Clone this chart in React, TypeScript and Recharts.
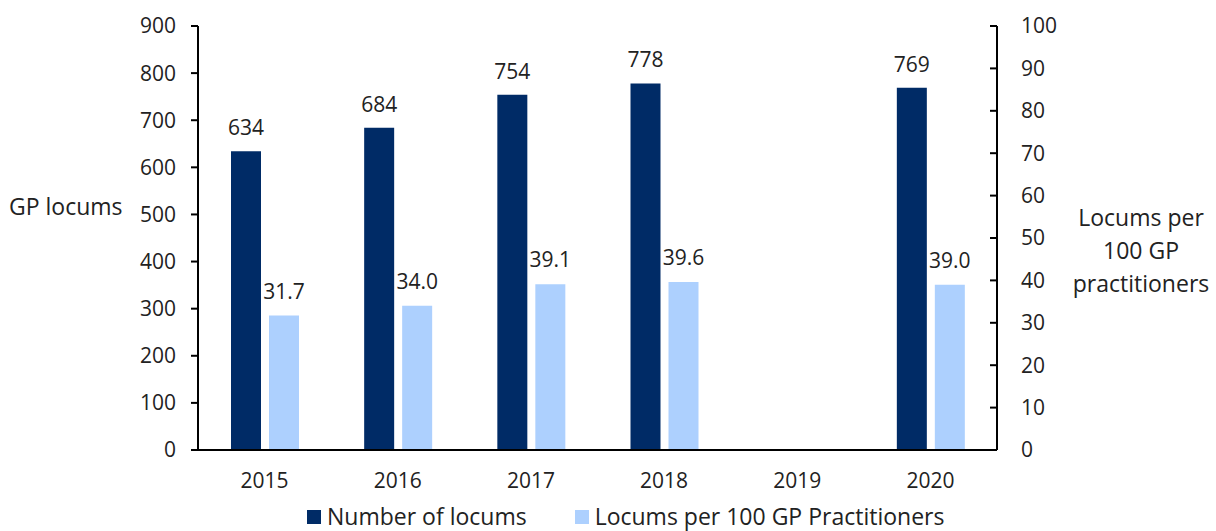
import {
  ComposedChart,
  XAxis,
  YAxis,
  Bar,
  LabelList,
} from 'recharts'

const years = ['2015', '2016', '2017', '2018', '2019', '2020']
const locums: (number | null)[] = [634, 684, 754, 778, null, 769]
const locumsPer100: (number | null)[] = [31.7, 34.0, 39.1, 39.6, null, 39.0]
const leftTicks = [0, 100, 200, 300, 400, 500, 600, 700, 800, 900]
const rightTicks = [0, 10, 20, 30, 40, 50, 60, 70, 80, 90, 100]

const data = years.map((year, i) => ({
  year,
  locums: locums[i],
  per100: locumsPer100[i],
}))

const DARK = '#002B66'
const LIGHT = '#ADD0FE'
const FONT = '"Open Sans", Lato, sans-serif'
const TEXT = '#222'
const NUM = 21
const WORD = 23

const RightTick = (props: any) => {
  const { x, y, payload } = props
  return (
    <g>
      <line x1={x - 7} x2={x} y1={y} y2={y} stroke="#000" strokeWidth={2} />
      <text x={x + 24} y={y} dy="0.35em" textAnchor="start" fontSize={NUM} fill={TEXT} fontFamily={FONT}>
        {payload.value}
      </text>
    </g>
  )
}

const LeftLabel = () => (
  <text x={9} y={207} dy="0.35em" fontSize={WORD} fill={TEXT} fontFamily={FONT}>
    GP locums
  </text>
)

const RightLabel = () => (
  <text textAnchor="middle" fontSize={WORD} fill={TEXT} fontFamily={FONT}>
    <tspan x={1141} y={218} dy="0.35em">Locums per</tspan>
    <tspan x={1141} y={251} dy="0.35em">100 GP</tspan>
    <tspan x={1141} y={284} dy="0.35em">practitioners</tspan>
  </text>
)

export default function App() {
  return (
    <div style={{ position: 'absolute', left: 0, top: 0, width: 1216, height: 531, background: '#fff', fontFamily: FONT, overflow: 'hidden' }}>
      <ComposedChart
        width={1216}
        height={531}
        data={data}
        margin={{ top: 26, right: 0, left: 0, bottom: 31 }}
        barGap={8}
      >
        <XAxis
          dataKey="year"
          height={50}
          tickLine={false}
          tickSize={0}
          tickMargin={23}
          axisLine={{ stroke: '#000', strokeWidth: 2 }}
          tick={{ fontSize: NUM, fill: TEXT, fontFamily: FONT }}
        />
        <YAxis
          yAxisId="left"
          width={198}
          domain={[0, 900]}
          ticks={leftTicks}
          interval={0}
          tickSize={7}
          tickMargin={15}
          axisLine={{ stroke: '#000', strokeWidth: 2 }}
          tickLine={{ stroke: '#000', strokeWidth: 2 }}
          tick={{ fontSize: NUM, fill: TEXT, fontFamily: FONT }}
          label={{ content: LeftLabel }}
        />
        <YAxis
          yAxisId="right"
          orientation="right"
          width={219}
          domain={[0, 100]}
          ticks={rightTicks}
          interval={0}
          tickSize={0}
          tickMargin={0}
          axisLine={{ stroke: '#000', strokeWidth: 2 }}
          tickLine={false}
          tick={RightTick}
          label={{ content: RightLabel }}
        />
        <Bar yAxisId="left" dataKey="locums" fill={DARK} barSize={30} isAnimationActive={false}>
          <LabelList dataKey="locums" position="top" offset={16} fontSize={NUM} fill={TEXT} fontFamily={FONT} />
        </Bar>
        <Bar yAxisId="right" dataKey="per100" fill={LIGHT} barSize={30} isAnimationActive={false}>
          <LabelList
            dataKey="per100"
            position="top"
            offset={17}
            fontSize={NUM}
            fill={TEXT}
            fontFamily={FONT}
            formatter={(v: any) => (v == null ? '' : Number(v).toFixed(1))}
          />
        </Bar>
      </ComposedChart>
      <div
        style={{
          position: 'absolute',
          top: 503,
          left: 307,
          display: 'flex',
          alignItems: 'center',
          fontSize: WORD,
          lineHeight: '27px',
          color: TEXT,
          whiteSpace: 'nowrap',
        }}
      >
        <span style={{ width: 14, height: 14, background: DARK, display: 'inline-block', marginRight: 6 }} />
        <span style={{ marginRight: 48 }}>Number of locums</span>
        <span style={{ width: 14, height: 14, background: LIGHT, display: 'inline-block', marginRight: 6 }} />
        <span>Locums per 100 GP Practitioners</span>
      </div>
    </div>
  )
}
